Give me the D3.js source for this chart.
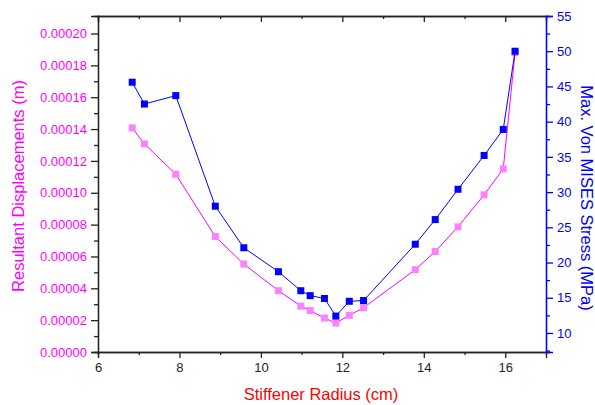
<!DOCTYPE html>
<html>
<head>
<meta charset="utf-8">
<script src="https://cdn.jsdelivr.net/npm/d3@7"></script>
<style>
  body { margin: 0; background: #fff; }
  svg { font-family: "Liberation Sans", Arial, sans-serif; }
</style>
</head>
<body>
<div id="viz"></div>
<script>
// Stiffener radius (cm)
const radius = [6.84, 7.14, 7.91, 8.88, 9.58, 10.43, 10.98, 11.21, 11.56, 11.84, 12.17, 12.52, 13.79, 14.28, 14.84, 15.48, 15.95, 16.24];
// Resultant displacement (m), left axis
const displacement = [0.0001407, 0.0001307, 0.0001116, 0.0000725, 0.0000552, 0.0000385, 0.0000288, 0.000026, 0.0000213, 0.0000182, 0.000023, 0.0000278, 0.0000517, 0.0000631, 0.0000786, 0.0000987, 0.000115, 0.000188];
// Max. von Mises stress (MPa), right axis
const stress = [45.6, 42.5, 43.7, 28.0, 22.1, 18.7, 16.0, 15.3, 14.9, 12.4, 14.5, 14.6, 22.6, 26.1, 30.4, 35.2, 38.9, 50.0];

const xTicks = [6, 8, 10, 12, 14, 16];
const leftTicks = [0, 0.00002, 0.00004, 0.00006, 0.00008, 0.0001, 0.00012, 0.00014, 0.00016, 0.00018, 0.0002];
const rightTicks = [10, 15, 20, 25, 30, 35, 40, 45, 50, 55];

const width = 595, height = 405;
const plotL = 98, plotR = 546, plotT = 16, plotB = 352;

const svg = d3.select("#viz").append("svg")
  .attr("width", width)
  .attr("height", height);

const x = d3.scaleLinear().domain([6, 17]).range([plotL, plotR]);
const yL = d3.scaleLinear().domain([0, 0.000211]).range([plotB, plotT]);
const yR = d3.scaleLinear().domain([7.3, 55]).range([plotB, plotT]);

// --- axes ---
function styleAxis(g, color, size) {
  g.select(".domain").attr("stroke", color).attr("stroke-width", 1.3);
  g.selectAll(".tick line").attr("stroke", color).attr("stroke-width", 1.3);
  g.selectAll(".tick text").attr("fill", color).attr("font-size", size);
}

// minor ticks first
svg.append("g")
  .attr("transform", `translate(0,${plotB})`)
  .call(d3.axisBottom(x).tickValues(d3.range(7, 17, 2)).tickSize(3).tickFormat(""))
  .call(g => styleAxis(g, "#222", 13));

svg.append("g")
  .attr("transform", `translate(0,${plotB})`)
  .call(d3.axisBottom(x).tickValues(xTicks).tickSize(6).tickPadding(5).tickFormat(d3.format("d")))
  .call(g => styleAxis(g, "#222", 13));

svg.append("g")
  .attr("transform", `translate(0,${plotT})`)
  .call(d3.axisBottom(x).tickValues(d3.range(7, 17, 2)).tickSize(3).tickFormat(""))
  .call(g => styleAxis(g, "#222", 13));

svg.append("g")
  .attr("transform", `translate(0,${plotT})`)
  .call(d3.axisBottom(x).tickValues(d3.range(6, 18, 2)).tickSize(6).tickFormat(""))
  .call(g => styleAxis(g, "#222", 13));

svg.append("g")
  .attr("transform", `translate(${plotL},0)`)
  .call(d3.axisLeft(yL).tickValues(d3.range(1, 21, 2).map(d => d * 0.00001)).tickSize(4).tickFormat(""))
  .call(g => styleAxis(g, "#222", 13));

svg.append("g")
  .attr("transform", `translate(${plotL},0)`)
  .call(d3.axisLeft(yL).tickValues(leftTicks).tickSize(7).tickPadding(4).tickFormat(d3.format(".5f")))
  .call(g => styleAxis(g, "#222", 13))
  .call(g => g.selectAll(".tick text").attr("fill", "#ff00ff"));

svg.append("g")
  .attr("transform", `translate(${plotR},0)`)
  .call(d3.axisRight(yR).tickValues(d3.range(7.5, 55, 5)).tickSize(4).tickFormat(""))
  .call(g => styleAxis(g, "#0000ff", 13));

svg.append("g")
  .attr("transform", `translate(${plotR},0)`)
  .call(d3.axisRight(yR).tickValues(rightTicks).tickSize(7).tickPadding(4).tickFormat(d3.format("d")))
  .call(g => styleAxis(g, "#0000ff", 13));

// --- titles ---
svg.append("text")
  .attr("x", (plotL + plotR) / 2 - 1)
  .attr("y", 400)
  .attr("text-anchor", "middle")
  .attr("fill", "#ff0000")
  .attr("font-size", 16.5)
  .text("Stiffener Radius (cm)");

svg.append("text")
  .attr("transform", "translate(24,186) rotate(-90)")
  .attr("text-anchor", "middle")
  .attr("fill", "#ff00ff")
  .attr("font-size", 16.5)
  .text("Resultant Displacements (m)");

svg.append("text")
  .attr("transform", "translate(581,198) rotate(90)")
  .attr("text-anchor", "middle")
  .attr("fill", "#0000ff")
  .attr("font-size", 16.5)
  .text("Max. Von MISES Stress (MPa)");

// --- series ---
const pinkData = radius.map((r, i) => [r, displacement[i]]);
const blueData = radius.map((r, i) => [r, stress[i]]);
const m = 7;

svg.append("path")
  .datum(pinkData)
  .attr("fill", "none")
  .attr("stroke", "#ff00ff")
  .attr("stroke-width", 1)
  .attr("d", d3.line().x(d => x(d[0])).y(d => yL(d[1])));

svg.append("g")
  .selectAll("rect")
  .data(pinkData)
  .join("rect")
  .attr("x", d => x(d[0]) - m / 2)
  .attr("y", d => yL(d[1]) - m / 2)
  .attr("width", m)
  .attr("height", m)
  .attr("fill", "#ff80ff");

svg.append("path")
  .datum(blueData)
  .attr("fill", "none")
  .attr("stroke", "#0000ff")
  .attr("stroke-width", 1)
  .attr("d", d3.line().x(d => x(d[0])).y(d => yR(d[1])));

svg.append("g")
  .selectAll("rect")
  .data(blueData)
  .join("rect")
  .attr("x", d => x(d[0]) - m / 2)
  .attr("y", d => yR(d[1]) - m / 2)
  .attr("width", m)
  .attr("height", m)
  .attr("fill", "#0000ff");
</script>
</body>
</html>
